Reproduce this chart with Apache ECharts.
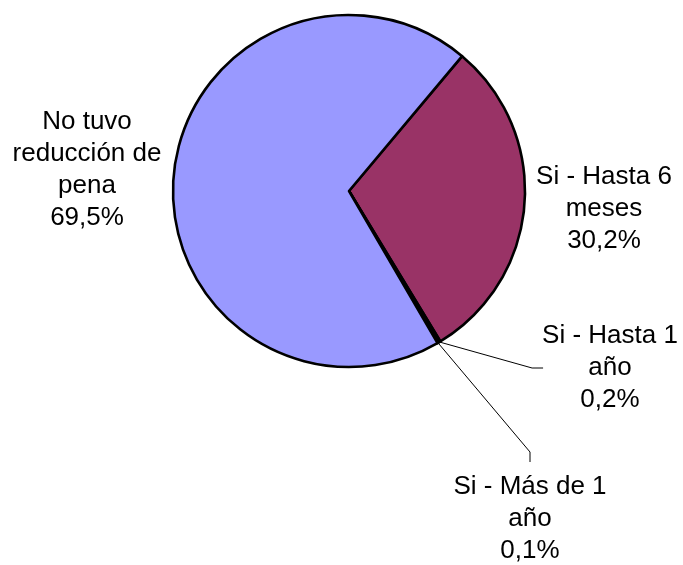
<!DOCTYPE html>
<html>
<head>
<meta charset="utf-8">
<script src="https://cdn.jsdelivr.net/npm/echarts@6/dist/echarts.min.js"></script>
<style>
  html, body { margin: 0; padding: 0; background: #ffffff; }
  #chart { width: 683px; height: 565px; }
</style>
</head>
<body>
<div id="chart"></div>
<script>
// Reducción de pena: distribución porcentual
const categories = [
  'Si - Hasta 6\nmeses',
  'Si - Hasta 1\naño',
  'Si - Más de 1\naño',
  'No tuvo\nreducción de\npena'
];
const percentages = [30.2, 0.2, 0.1, 69.5];
const sliceColors = ['#993366', '#FFFFCC', '#CCFFFF', '#9999FF'];

// Where each label block is centred, and how its leader line is drawn
const labelPlacement = [
  { x: 604, y: 209, line: 'none' },
  { x: 610, y: 368, line: 'side' },
  { x: 530, y: 519, line: 'below' },
  { x: 87,  y: 170, line: 'none' }
];

const fmtPct = v => v.toFixed(1).replace('.', ',') + '%';

const chart = echarts.init(document.getElementById('chart'), null, { renderer: 'canvas' });

chart.setOption({
  backgroundColor: '#ffffff',
  animation: false,
  series: [{
    type: 'pie',
    center: [349, 191],
    radius: 176,
    startAngle: 50,
    clockwise: true,
    avoidLabelOverlap: false,
    minShowLabelAngle: 0,
    itemStyle: { borderColor: '#000000', borderWidth: 2.6 },
    label: {
      show: true,
      position: 'outside',
      color: '#000000',
      fontFamily: '"Liberation Sans", Arial, sans-serif',
      fontSize: 26,
      lineHeight: 32,
      formatter: p => p.name + '\n' + fmtPct(p.value)
    },
    labelLine: {
      show: true,
      lineStyle: { color: '#000000', width: 1 }
    },
    emphasis: { disabled: true },
    labelLayout: function (params) {
      const place = labelPlacement[params.dataIndex];
      const w = params.labelRect.width;
      const h = params.labelRect.height;
      const out = { x: place.x, y: place.y, align: 'center', verticalAlign: 'middle' };
      const pts = params.labelLinePoints;
      if (pts && place.line === 'side') {
        const endX = place.x - w / 2 + 1;
        out.labelLinePoints = [pts[0], [endX - 11, place.y], [endX, place.y]];
      } else if (pts && place.line === 'below') {
        const top = place.y - h / 2;
        out.labelLinePoints = [pts[0], [place.x, top - 19], [place.x, top - 9]];
      }
      return out;
    },
    data: categories.map((name, i) => ({
      name: name,
      value: percentages[i],
      itemStyle: { color: sliceColors[i] },
      labelLine: { show: labelPlacement[i].line !== 'none' }
    }))
  }]
});
</script>
</body>
</html>
